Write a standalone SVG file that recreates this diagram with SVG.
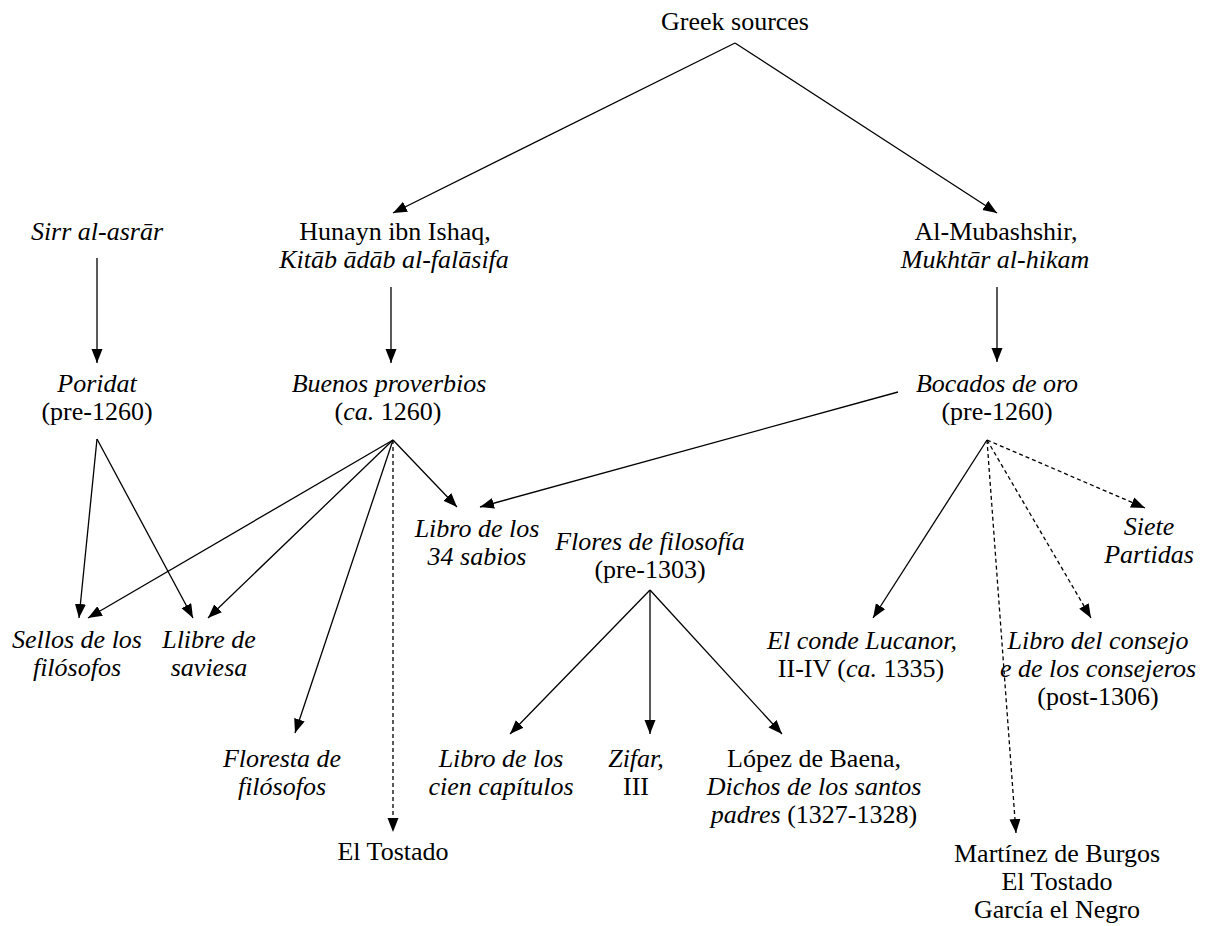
<svg xmlns="http://www.w3.org/2000/svg" width="1221" height="926" viewBox="0 0 1221 926">
<style>
text{font-family:"Liberation Serif","DejaVu Serif",serif;font-size:26px;fill:#000;text-anchor:middle}
.i{font-style:italic}
.c line{stroke:#000;stroke-width:1.3;fill:none;marker-end:url(#ah)}
.c .d{stroke-dasharray:4 3}
</style>
<defs>
<marker id="ah" markerUnits="userSpaceOnUse" markerWidth="16" markerHeight="12" refX="14" refY="5.5" orient="auto">
<path d="M0,0 L14,5.5 L0,11 z" fill="#000"/>
</marker>
</defs>
<rect width="1221" height="926" fill="#fff"/>
<g class="c" id="connectors">
<line x1="735" y1="43" x2="393" y2="213"/>
<line x1="735" y1="43" x2="997" y2="213"/>
<line x1="97" y1="258" x2="97" y2="363"/>
<line x1="391" y1="287" x2="391" y2="363"/>
<line x1="997" y1="287" x2="997" y2="362"/>
<line x1="97" y1="439" x2="79" y2="618"/>
<line x1="97" y1="439" x2="193" y2="618"/>
<line x1="393" y1="440" x2="88" y2="618"/>
<line x1="393" y1="440" x2="208" y2="618"/>
<line x1="393" y1="440" x2="295" y2="733"/>
<line class="d" x1="393" y1="440" x2="393" y2="832"/>
<line x1="393" y1="440" x2="457" y2="507"/>
<line x1="898" y1="392" x2="480" y2="507"/>
<line x1="987" y1="440" x2="873" y2="618"/>
<line class="d" x1="987" y1="440" x2="1016" y2="833"/>
<line class="d" x1="987" y1="440" x2="1091" y2="618"/>
<line class="d" x1="987" y1="440" x2="1145" y2="508"/>
<line x1="650" y1="590" x2="510" y2="734"/>
<line x1="650" y1="590" x2="650" y2="734"/>
<line x1="650" y1="590" x2="782" y2="734"/>
</g>
<g id="greek"><text x="735" y="30">Greek sources</text></g>
<g id="sirr"><text class="i" x="97" y="240">Sirr al-asrār</text></g>
<g id="hunayn"><text x="395" y="240">Hunayn ibn Ishaq,</text><text class="i" x="394" y="268">Kitāb ādāb al-falāsifa</text></g>
<g id="mubashshir"><text x="996" y="240">Al-Mubashshir,</text><text class="i" x="995" y="268">Mukhtār al-hikam</text></g>
<g id="poridat"><text class="i" x="97" y="392">Poridat</text><text x="97" y="420">(pre-1260)</text></g>
<g id="buenos"><text class="i" x="389" y="392">Buenos proverbios</text><text x="388" y="420">(<tspan class="i">ca.</tspan> 1260)</text></g>
<g id="bocados"><text class="i" x="997" y="392">Bocados de oro</text><text x="997" y="420">(pre-1260)</text></g>
<g id="libro34"><text class="i" x="477" y="537">Libro de los</text><text class="i" x="477" y="565">34 sabios</text></g>
<g id="flores"><text class="i" x="650" y="550">Flores de filosofía</text><text x="650" y="578">(pre-1303)</text></g>
<g id="siete"><text class="i" x="1149" y="535">Siete</text><text class="i" x="1149" y="563">Partidas</text></g>
<g id="sellos"><text class="i" x="77" y="648">Sellos de los</text><text class="i" x="77" y="676">filósofos</text></g>
<g id="llibre"><text class="i" x="209" y="648">Llibre de</text><text class="i" x="209" y="676">saviesa</text></g>
<g id="conde"><text class="i" x="862" y="649">El conde Lucanor,</text><text x="861" y="677">II-IV (<tspan class="i">ca.</tspan> 1335)</text></g>
<g id="consejo"><text class="i" x="1098" y="649">Libro del consejo</text><text class="i" x="1098" y="677">e de los consejeros</text><text x="1098" y="705">(post-1306)</text></g>
<g id="floresta"><text class="i" x="282" y="767">Floresta de</text><text class="i" x="282" y="795">filósofos</text></g>
<g id="cien"><text class="i" x="501" y="767">Libro de los</text><text class="i" x="501" y="795">cien capítulos</text></g>
<g id="zifar"><text class="i" x="636" y="767">Zifar,</text><text x="636" y="795">III</text></g>
<g id="lopez"><text x="814" y="767">López de Baena,</text><text class="i" x="814" y="795">Dichos de los santos</text><text x="814" y="823"><tspan class="i">padres</tspan> (1327-1328)</text></g>
<g id="tostado"><text x="393" y="860">El Tostado</text></g>
<g id="martinez"><text x="1057" y="862">Martínez de Burgos</text><text x="1057" y="890">El Tostado</text><text x="1057" y="918">García el Negro</text></g>
</svg>
